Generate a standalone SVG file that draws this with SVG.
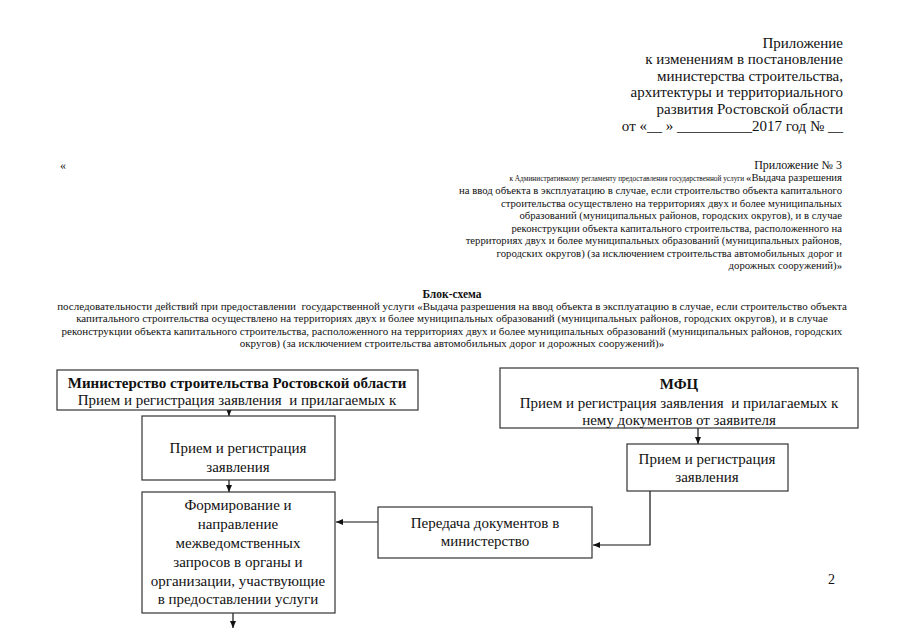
<svg xmlns="http://www.w3.org/2000/svg" width="905" height="640" viewBox="0 0 905 640">
<style>
text{font-family:"Liberation Serif","Times New Roman",serif;fill:#111;white-space:pre}
.h{font-size:15px;text-anchor:end}
.s{font-size:10.7px;text-anchor:end}
.c{font-size:11px;text-anchor:middle}
.b{font-size:15px;text-anchor:middle}
.bb{font-weight:bold}
.box{fill:#fff;stroke:#333;stroke-width:1.2}
.ln{fill:none;stroke:#111;stroke-width:1.2}
</style>
<defs>
<marker id="ar" markerWidth="8" markerHeight="8" refX="7" refY="4" orient="auto" markerUnits="userSpaceOnUse">
<path d="M0,1 L7,4 L0,7 Z" fill="#111"/>
</marker>
</defs>
<rect width="905" height="640" fill="#fff"/>
<g id="header">
<text class="h" x="843" y="48">Приложение</text>
<text class="h" x="843" y="64">к изменениям в постановление</text>
<text class="h" x="843" y="81">министерства строительства,</text>
<text class="h" x="843" y="97">архитектуры и территориального</text>
<text class="h" x="843" y="114">развития Ростовской области</text>
<text class="h" x="843" y="131">от «__ » __________2017 год № __</text>
<text x="60" y="169" style="font-size:12px">«</text>
<text class="s" x="842" y="169" style="font-size:12px">Приложение № 3</text>
<text class="s" x="842" y="181" xml:space="preserve"><tspan style="font-size:7.3px">к Административному регламенту предоставления государственной услуги </tspan>«Выдача разрешения</text>
<text class="s" x="842" y="194">на ввод объекта в эксплуатацию в случае, если строительство объекта капитального</text>
<text class="s" x="842" y="207">строительства осуществлено на территориях двух и более муниципальных</text>
<text class="s" x="842" y="219">образований (муниципальных районов, городских округов), и в случае</text>
<text class="s" x="842" y="232">реконструкции объекта капитального строительства, расположенного на</text>
<text class="s" x="842" y="244">территориях двух и более муниципальных образований (муниципальных районов,</text>
<text class="s" x="842" y="257">городских округов) (за исключением строительства автомобильных дорог и</text>
<text class="s" x="842" y="269">дорожных сооружений)»</text>
<text x="452" y="298" style="font-size:11.5px;font-weight:bold;text-anchor:middle">Блок-схема</text>
<text class="c" x="452" y="310" xml:space="preserve">последовательности действий при предоставлении  государственной услуги «Выдача разрешения на ввод объекта в эксплуатацию в случае, если строительство объекта</text>
<text class="c" x="452" y="322">капитального строительства осуществлено на территориях двух и более муниципальных образований (муниципальных районов, городских округов), и в случае</text>
<text class="c" x="452" y="335">реконструкции объекта капитального строительства, расположенного на территориях двух и более муниципальных образований (муниципальных районов, городских</text>
<text class="c" x="452" y="347">округов) (за исключением строительства автомобильных дорог и дорожных сооружений)»</text>
<text x="828" y="584" style="font-size:14px">2</text>
</g>
<g id="connectors">
<line class="ln" x1="229" y1="410" x2="229" y2="416" marker-end="url(#ar)"/>
<line class="ln" x1="229" y1="480" x2="229" y2="492" marker-end="url(#ar)"/>
<line class="ln" x1="233" y1="613" x2="233" y2="628" marker-end="url(#ar)"/>
<line class="ln" x1="698" y1="428" x2="698" y2="444" marker-end="url(#ar)"/>
<polyline class="ln" points="650,491 650,545 593,545" marker-end="url(#ar)"/>
<line class="ln" x1="378" y1="522" x2="336" y2="522" marker-end="url(#ar)"/>
</g>
<g id="ministry">
<rect class="box" x="57" y="370" width="361" height="40"/>
<text class="b bb" x="237" y="388">Министерство строительства Ростовской области</text>
<text class="b" x="237" y="405" xml:space="preserve">Прием и регистрация заявления  и прилагаемых к</text>
</g>
<g id="reg1">
<rect class="box" x="142" y="416" width="193" height="64"/>
<text class="b" x="238" y="453">Прием и регистрация</text>
<text class="b" x="238" y="472">заявления</text>
</g>
<g id="requests">
<rect class="box" x="142" y="492" width="193" height="121"/>
<text class="b" x="238" y="510">Формирование и</text>
<text class="b" x="238" y="529">направление</text>
<text class="b" x="238" y="548">межведомственных</text>
<text class="b" x="238" y="567">запросов в органы и</text>
<text class="b" x="238" y="586">организации, участвующие</text>
<text class="b" x="238" y="604">в предоставлении услуги</text>
</g>
<g id="mfc">
<rect class="box" x="500" y="368" width="358" height="60"/>
<text class="b bb" x="679" y="389">МФЦ</text>
<text class="b" x="679" y="408" xml:space="preserve">Прием и регистрация заявления  и прилагаемых к</text>
<text class="b" x="679" y="425">нему документов от заявителя</text>
</g>
<g id="reg2">
<rect class="box" x="627" y="444" width="161" height="47"/>
<text class="b" x="707" y="464">Прием и регистрация</text>
<text class="b" x="707" y="482">заявления</text>
</g>
<g id="transfer">
<rect class="box" x="378" y="507" width="214" height="51"/>
<text class="b" x="485" y="528">Передача документов в</text>
<text class="b" x="485" y="546">министерство</text>
</g>
</svg>
